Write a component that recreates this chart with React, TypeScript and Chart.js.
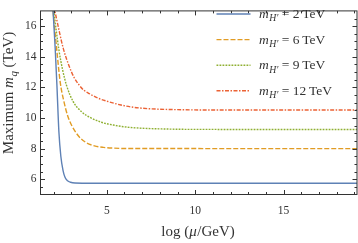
import React, { useEffect, useRef } from "react";
import { Chart, registerables } from "chart.js";

Chart.register(...registerables);

const W = 358;
const H = 243;
const FONT = "'Liberation Serif', 'DejaVu Serif', serif";
const INK = "#333333";

// Series: m_H' values (TeV)
const seriesMass = ["2", "6", "9", "12"];
const seriesColors = ["#5E81B5", "#E19C24", "#8FB032", "#EB6235"];
const seriesDash: number[][] = [[], [5, 2], [1.8, 1.2], [4, 1.5, 1.5, 1.5]];

// log(mu/GeV) and maximum m_q (TeV) per series
const logMu2 = [1.9, 1.96, 2.08, 2.18, 2.29, 2.4, 2.52, 2.63, 2.78, 2.95, 3.2, 3.6, 19.15];
const mq2 = [18.3, 17.0, 14.58, 12.1, 9.1, 7.5, 6.6, 6.14, 5.9, 5.8, 5.75, 5.74, 5.74];

const logMu6 = [1.9, 1.96, 2.16, 2.37, 2.56, 2.8, 3.27, 3.79, 4.3, 4.8, 5.4, 6.2, 19.15];
const mq6 = [17.9, 17.0, 14.58, 12.3, 11.15, 10.1, 9.02, 8.42, 8.18, 8.08, 8.03, 8.005, 8.0];

const logMu9 = [1.94, 2.0, 2.29, 2.5, 2.72, 3.1, 3.6, 4.05, 4.7, 5.36, 6.1, 6.86, 8.0, 10.0, 19.15];
const mq9 = [17.6, 17.02, 14.46, 13.15, 12.14, 11.07, 10.38, 10.04, 9.72, 9.54, 9.41, 9.34, 9.29, 9.255, 9.25];

const logMu12 = [2.0, 2.06, 2.53, 2.85, 3.15, 3.44, 3.7, 4.0, 4.5, 5.0, 5.8, 6.5, 7.5, 9.0, 10.5, 19.15];
const mq12 = [17.3, 17.0, 14.58, 13.45, 12.65, 12.15, 11.82, 11.6, 11.3, 11.1, 10.85, 10.7, 10.6, 10.545, 10.525, 10.52];

const seriesX = [logMu2, logMu6, logMu9, logMu12];
const seriesY = [mq2, mq6, mq9, mq12];

// Axes
const xMin = 1.25;
const xMax = 19.15;
const yMin = 5;
const yMax = 17;
const xTickValues = [5, 10, 15];
const yTickValues = [6, 8, 10, 12, 14, 16];
const xMinorStep = 1;
const yMinorStep = 0.5;

type Part = { t: string; it?: boolean; sub?: boolean };

function partFont(p: Part, size: number) {
  const s = p.sub ? size * 0.72 : size;
  return `${p.it ? "italic " : ""}${s}px ${FONT}`;
}

function drawRich(ctx: CanvasRenderingContext2D, parts: Part[], x: number, y: number, size: number, align: "left" | "center") {
  const widths = parts.map((p) => {
    ctx.font = partFont(p, size);
    return ctx.measureText(p.t).width + (p.it && !p.sub ? 0.5 : 0);
  });
  const total = widths.reduce((a, b) => a + b, 0);
  let cx = align === "center" ? x - total / 2 : x;
  ctx.textAlign = "left";
  ctx.textBaseline = "alphabetic";
  parts.forEach((p, i) => {
    ctx.font = partFont(p, size);
    ctx.fillText(p.t, cx, y + (p.sub ? size * 0.25 : 0));
    cx += widths[i];
  });
}

const framePlugin = {
  id: "mmaFrame",
  afterDraw(chart: any) {
    const { ctx, chartArea: a, scales } = chart;
    const xs = scales.x;
    const ys = scales.y;
    ctx.save();
    ctx.strokeStyle = INK;
    ctx.lineWidth = 1;
    ctx.setLineDash([]);
    ctx.strokeRect(a.left, a.top, a.right - a.left, a.bottom - a.top);

    // x ticks (inward, bottom & top)
    for (let v = Math.ceil(xMin); v <= xMax; v += xMinorStep) {
      const px = Math.round(xs.getPixelForValue(v)) + 0.5;
      const major = xTickValues.includes(v);
      const len = major ? 4.5 : 2.5;
      ctx.beginPath();
      ctx.moveTo(px, a.bottom);
      ctx.lineTo(px, a.bottom - len);
      ctx.moveTo(px, a.top);
      ctx.lineTo(px, a.top + len);
      ctx.stroke();
    }
    // y ticks (inward, left & right)
    for (let v = yMin + yMinorStep; v < yMax; v += yMinorStep) {
      const py = Math.round(ys.getPixelForValue(v)) + 0.5;
      const major = yTickValues.includes(v);
      const len = major ? 4.5 : 2.5;
      ctx.beginPath();
      ctx.moveTo(a.left, py);
      ctx.lineTo(a.left + len, py);
      ctx.moveTo(a.right, py);
      ctx.lineTo(a.right - len, py);
      ctx.stroke();
    }

    ctx.fillStyle = INK;
    // x-axis title
    drawRich(ctx, [{ t: "log (" }, { t: "\u03BC", it: true }, { t: "/GeV)" }], 198, 236, 15, "center");
    // y-axis title
    ctx.save();
    ctx.translate(13, 93);
    ctx.rotate(-Math.PI / 2);
    drawRich(ctx, [{ t: "Maximum " }, { t: "m", it: true }, { t: "q", it: true, sub: true }, { t: " (TeV)" }], 0, 0, 15, "center");
    ctx.restore();

    // legend
    const x0 = 216.5;
    const x1 = 250.5;
    chart.data.datasets.forEach((ds: any, i: number) => {
      const yc = 14 + i * 25.6;
      ctx.save();
      ctx.strokeStyle = ds.borderColor;
      ctx.lineWidth = ds.borderWidth;
      ctx.setLineDash(ds.borderDash || []);
      ctx.beginPath();
      ctx.moveTo(x0, yc);
      ctx.lineTo(x1, yc);
      ctx.stroke();
      ctx.restore();
      ctx.fillStyle = INK;
      drawRich(ctx, [{ t: "m", it: true }, { t: "H\u2032", it: true, sub: true }, { t: " = " + seriesMass[i] + "\u2009TeV" }], 259, yc + 4, 13.5, "left");
    });
    ctx.restore();
  },
};

export default function App() {
  const ref = useRef<HTMLCanvasElement | null>(null);
  useEffect(() => {
    document.body.style.margin = "0";
    const canvas = ref.current!;
    const datasets = seriesMass.map((m, i) => ({
      label: m,
      data: seriesX[i].map((x, j) => ({ x, y: seriesY[i][j] })),
      borderColor: seriesColors[i],
      backgroundColor: seriesColors[i],
      borderWidth: 1.4,
      borderDash: seriesDash[i],
      pointRadius: 0,
      fill: false,
      cubicInterpolationMode: "monotone" as const,
    }));
    const chart = new Chart(canvas, {
      type: "line",
      data: { datasets },
      options: {
        responsive: false,
        animation: false,
        devicePixelRatio: 1,
        layout: { padding: { left: 0, top: 0.5, right: 1, bottom: 0 } },
        plugins: { legend: { display: false }, tooltip: { enabled: false } },
        scales: {
          x: {
            type: "linear",
            min: xMin,
            max: xMax,
            grid: { display: false, drawTicks: false },
            border: { display: false },
            afterBuildTicks: (s: any) => {
              s.ticks = xTickValues.map((v) => ({ value: v }));
            },
            afterFit: (s: any) => {
              s.height = 48.5;
            },
            ticks: { padding: 10, color: INK, font: { family: FONT, size: 11.5 }, maxRotation: 0, callback: (v: any) => String(v) },
          },
          y: {
            type: "linear",
            min: yMin,
            max: yMax,
            grid: { display: false, drawTicks: false },
            border: { display: false },
            afterBuildTicks: (s: any) => {
              s.ticks = yTickValues.map((v) => ({ value: v }));
            },
            afterFit: (s: any) => {
              s.width = 40.5;
            },
            ticks: { padding: 4, color: INK, font: { family: FONT, size: 11.5 }, callback: (v: any) => String(v) },
          },
        },
      },
      plugins: [framePlugin],
    });
    return () => chart.destroy();
  }, []);
  return (
    <div style={{ position: "absolute", left: 0, top: 0, width: W, height: H }}>
      <canvas ref={ref} width={W} height={H} style={{ display: "block", width: W, height: H }} />
    </div>
  );
}
